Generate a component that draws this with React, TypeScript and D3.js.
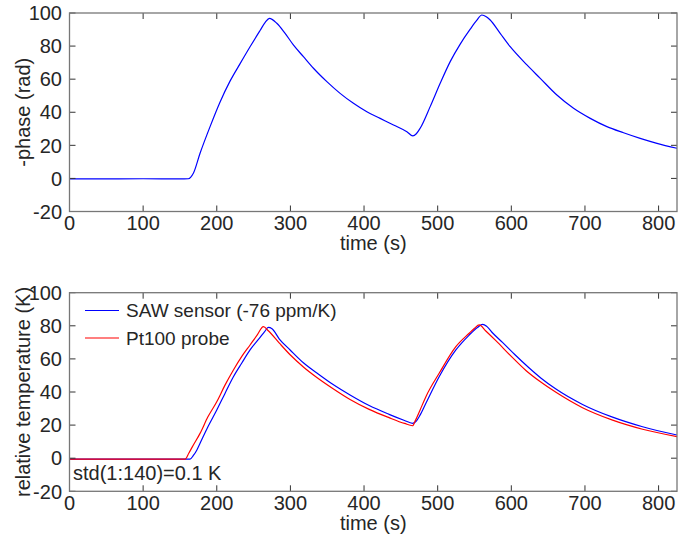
import React from "react";
import * as d3 from "d3";

// ---- Data ----
const xTicks = [0, 100, 200, 300, 400, 500, 600, 700, 800];
const yTicks = [-20, 0, 20, 40, 60, 80, 100];

const phaseT = [0, 50, 100, 150, 161.4, 168.2, 177.3, 190.9, 204.5, 218, 231.7, 245.2, 258.8, 266, 271.5, 281.5, 292.8, 304, 317.7, 331.3, 349.5, 367.5, 385.6, 403.8, 421.9, 440, 458.2, 466.3, 471, 476.2, 489.8, 503.4, 517, 530.6, 544.2, 553, 560, 566, 571.3, 584.9, 598.5, 621.2, 639.3, 661.9, 684.5, 707.2, 729.8, 752.4, 775, 797.8, 825];
const phaseV = [-0.3, -0.3, -0.2, -0.3, -0.2, 3.1, 15.2, 31.3, 46.2, 58.8, 69.4, 79.6, 89.4, 94.5, 96.8, 93.8, 87.7, 80.7, 73.6, 66.6, 58.5, 51.4, 45.4, 40.3, 36.3, 32.3, 28.2, 25.7, 27, 30.3, 43.4, 57.5, 70.6, 81.2, 90.2, 95.5, 98.8, 97.8, 95.8, 87.7, 79.6, 68.6, 60.5, 50.4, 42.4, 36.3, 31.3, 27.6, 24.2, 21.2, 18.2];

const sawT = [0, 163.7, 168, 173, 177.3, 188, 200, 211, 222.6, 234, 245.2, 258, 265, 270, 275, 285, 299.6, 318, 335.9, 358, 381, 407, 434, 455, 465.8, 470, 476, 484, 502, 524.7, 542.8, 554, 561, 567, 575, 588, 605, 624.3, 640, 660.6, 696.7, 737.5, 778.3, 825];
const sawV = [-0.5, -0.5, 1.5, 5, 9, 19, 29.1, 39, 49.2, 57.5, 65.4, 72.5, 76.5, 79, 78.2, 72, 65.4, 57.5, 51.5, 44.5, 38.2, 31.8, 26.5, 22.8, 21.1, 22, 26, 33.2, 49.2, 65.4, 74.4, 79, 80.9, 79.5, 75.5, 70, 62.5, 54.5, 48.5, 41.8, 32.5, 24.8, 19, 14];

const ptT = [0, 157, 162, 167, 177.3, 188, 200, 211, 222.6, 234, 245.2, 255, 263.3, 270, 285, 299.6, 318, 335.9, 358, 381, 407, 434, 455, 465.8, 470, 476, 484, 502, 524.7, 542.8, 550, 556.4, 565, 579, 600, 619.8, 640, 660.6, 696.7, 737.5, 778.3, 825];
const ptV = [-0.5, -0.5, 3, 7, 15, 25, 34.1, 44, 53.3, 61.5, 68.4, 74.5, 79.5, 77, 69.5, 62.5, 55, 48.8, 42, 35.5, 29.5, 24.5, 21, 19.6, 23, 29, 37.2, 51.3, 67.4, 75.5, 78.5, 80.5, 77, 71, 61.5, 53, 46, 39.8, 30.5, 23, 17.5, 13];

const legendLabels = ["SAW sensor (-76 ppm/K)", "Pt100 probe"];
const annotation = "std(1:140)=0.1 K";

const W = 699;
const H = 542;
const FONT = "'Liberation Sans', Arial, Helvetica, sans-serif";
const TXT = "#262626";
const FS = 20;

const left = 69.5;
const right = 677;
const x = d3.scaleLinear().domain([0, 825]).range([left, right]);

type Series = { t: number[]; v: number[]; color: string };

function Panel({ top, bottom, series, ylabel, children, id }: { top: number; bottom: number; series: Series[]; ylabel: string; children?: React.ReactNode; id: string }) {
  const y = d3.scaleLinear().domain([-20, 100]).range([bottom, top]);
  const tl = 6;
  return (
    <g>
      <defs>
        <clipPath id={id}>
          <rect x={left} y={top} width={right - left} height={bottom - top} />
        </clipPath>
      </defs>
      <g clipPath={`url(#${id})`}>
        {series.map((s, i) => {
          const pts: [number, number][] = s.t.map((t, k) => [t, s.v[k]]);
          const line = d3
            .line<[number, number]>()
            .x((d) => x(d[0]))
            .y((d) => y(d[1]))
            .curve(d3.curveMonotoneX);
          return <path key={i} d={line(pts) || ""} fill="none" stroke={s.color} strokeWidth={1.2} />;
        })}
      </g>
      {xTicks.map((t) => (
        <g key={"x" + t}>
          <line x1={x(t)} x2={x(t)} y1={bottom} y2={bottom - tl} stroke="#333" strokeWidth={1} />
          <line x1={x(t)} x2={x(t)} y1={top} y2={top + tl} stroke="#333" strokeWidth={1} />
          <text x={x(t)} y={bottom + 18.5} textAnchor="middle" fontSize={FS} fill={TXT} fontFamily={FONT}>
            {t}
          </text>
        </g>
      ))}
      {yTicks.map((v) => (
        <g key={"y" + v}>
          <line x1={left} x2={left + tl} y1={y(v)} y2={y(v)} stroke="#333" strokeWidth={1} />
          <line x1={right} x2={right - tl} y1={y(v)} y2={y(v)} stroke="#333" strokeWidth={1} />
          <text x={62} y={y(v)} dy="0.36em" textAnchor="end" fontSize={FS} fill={TXT} fontFamily={FONT}>
            {v}
          </text>
        </g>
      ))}
      <rect x={left} y={top} width={right - left} height={bottom - top} fill="none" stroke="#777" strokeWidth={1.3} />
      <text x={(left + right) / 2} y={bottom + 38.5} textAnchor="middle" fontSize={FS} fill={TXT} fontFamily={FONT}>
        time (s)
      </text>
      <text
        transform={`translate(29.5,${(top + bottom) / 2}) rotate(-90)`}
        textAnchor="middle"
        fontSize={FS}
        fill={TXT}
        fontFamily={FONT}
      >
        {ylabel}
      </text>
      {children}
    </g>
  );
}

export default function App() {
  const bTop = 292.7;
  const bBottom = 491.3;
  return (
    <svg width={W} height={H} style={{ position: "absolute", left: 0, top: 0, background: "#fff" }}>
      <rect width={W} height={H} fill="#fff" />
      <Panel id="c1" top={13} bottom={211.5} ylabel="-phase (rad)" series={[{ t: phaseT, v: phaseV, color: "#0000ff" }]} />
      <Panel
        id="c2"
        top={bTop}
        bottom={bBottom}
        ylabel="relative temperature (K)"
        series={[
          { t: sawT, v: sawV, color: "#0000ff" },
          { t: ptT, v: ptV, color: "#ff0000" },
        ]}
      >
        <g>
          <line x1={85} x2={119} y1={310.5} y2={310.5} stroke="#0000ff" strokeWidth={1.2} />
          <text x={126} y={317} fontSize={19} fill={TXT} fontFamily={FONT}>
            {legendLabels[0]}
          </text>
          <line x1={85} x2={119} y1={338} y2={338} stroke="#ff0000" strokeWidth={1.2} />
          <text x={126} y={344.5} fontSize={19} fill={TXT} fontFamily={FONT}>
            {legendLabels[1]}
          </text>
          <text x={73} y={480} fontSize={FS} fill={TXT} fontFamily={FONT}>
            {annotation}
          </text>
        </g>
      </Panel>
    </svg>
  );
}
